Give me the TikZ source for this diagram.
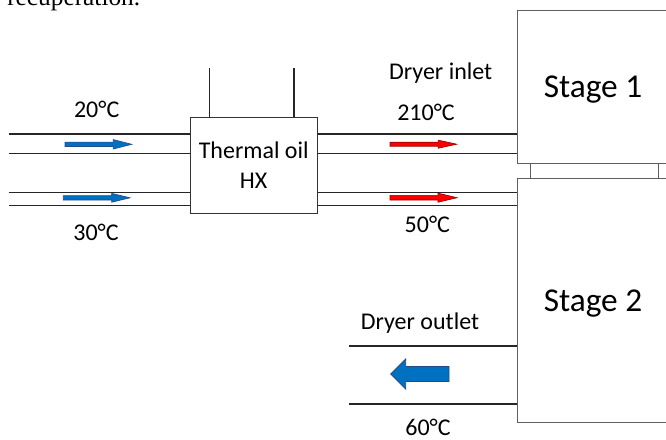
\documentclass[tikz,border=0pt]{standalone}
\usepackage{fontspec}
\setmainfont{Carlito}
\newfontfamily\bodyserif{Liberation Serif}
\usetikzlibrary{positioning}

\definecolor{flowblue}{RGB}{0,112,192}
\definecolor{flowblueline}{RGB}{40,75,135}
\definecolor{flowred}{RGB}{255,0,0}
\definecolor{flowredline}{RGB}{150,0,0}
\definecolor{boxgrey}{RGB}{95,95,95}

% block arrow: style, tail x, head base x, tip x, y, shaft half height, head half height
\newcommand{\blockarrow}[7]{%
  \draw[#1] (#2,#5-#6) -- (#3,#5-#6) -- (#3,#5-#7) -- (#4,#5)
    -- (#3,#5+#7) -- (#3,#5+#6) -- (#2,#5+#6) -- cycle;}

\begin{document}
\begin{tikzpicture}[x=0.75pt,y=-0.75pt,
	pipe/.style={line width=1.2pt, black!85},
	oilpipe/.style={line width=0.8pt, black!85},
	unitbox/.style={draw=boxgrey, line width=0.6pt, inner sep=0pt},
	templabel/.style={anchor=base, inner sep=0pt, font=\fontsize{18}{22}\selectfont},
	stagetext/.style={anchor=base, inner sep=0pt, font=\fontsize{25}{30}\selectfont},
	coldflow/.style={fill=flowblue, draw=flowblueline, line width=0.5pt},
	hotflow/.style={fill=flowred, draw=flowredline, line width=0.5pt}]

	\useasboundingbox (0,0) rectangle (666,439);
	\clip (0,0) rectangle (666,439);

	% cut caption line from the page
	\node[anchor=base west, inner sep=0pt, font=\bodyserif\fontsize{19}{23}\selectfont] (caption) at (7,5.5) {recuperation.};

	% dryer stages
	\node[unitbox, minimum width=114.75pt, minimum height=114.75pt] (stage1) at (593.5,86.5) {};
	\node[unitbox, minimum width=114.75pt, minimum height=182.6pt] (stage2) at (593.5,300.25) {};
	\draw[boxgrey, line width=0.6pt] ([xshift=10.5pt]stage1.south west) rectangle ([xshift=-9pt]stage2.north east);
	\node[stagetext] (s1label) at (593,97.3) {Stage 1};
	\node[stagetext] (s2label) at (593,311.7) {Stage 2};

	% heat exchanger
	\node[unitbox, draw=black!80, minimum width=95.25pt, minimum height=71.7pt, align=center,
		font=\fontsize{18}{22.5}\selectfont] (hx) at (253.7,165.5) {Thermal oil\\HX};

	% oil loop
	\coordinate (oilA) at (209.3,68);
	\coordinate (oilB) at (294,68);
	\draw[oilpipe] (oilA) -- (oilA |- hx.north);
	\draw[oilpipe] (oilB) -- (oilB |- hx.north);

	% air pipes through HX into the dryer
	\coordinate (inA) at (9,134);
	\coordinate (inB) at (9,153.3);
	\coordinate (inC) at (9,192.3);
	\coordinate (inD) at (9,205.3);
	\foreach \p in {inA,inB,inC,inD} {
		\draw[pipe] (\p) -- (\p -| hx.west);
		\draw[pipe] (\p -| hx.east) -- (\p -| stage1.west);
	}

	% dryer outlet duct
	\coordinate (outA) at (349.3,346);
	\coordinate (outB) at (349.3,404);
	\draw[pipe, line width=1.5pt] (outA) -- (outA -| stage2.west);
	\draw[pipe, line width=1.5pt] (outB) -- (outB -| stage2.west);

	% flow arrows
	\blockarrow{coldflow}{65}{113.3}{131.7}{144.3}{2.2}{4.7}
	\blockarrow{coldflow}{63.3}{111.7}{130}{197.8}{2.2}{4.4}
	\blockarrow{hotflow}{390}{438.3}{456.7}{144.2}{2}{4}
	\blockarrow{hotflow}{390}{438}{457}{197.7}{2.3}{4.5}
	\blockarrow{coldflow, line width=0.6pt}{449}{405.7}{390.7}{374}{7.5}{15}

	% labels
	\node[templabel] (tinA) at (96.7,117.7) {20°C};
	\node[templabel] (tinB) at (96,240.7) {30°C};
	\node[templabel] (inlet) at (440.7,79) {Dryer inlet};
	\node[templabel] (toutA) at (426,120.7) {210°C};
	\node[templabel] (toutB) at (427.3,232.7) {50°C};
	\node[templabel] (outlet) at (420,329) {Dryer outlet};
	\node[templabel] (texit) at (428,435) {60°C};
\end{tikzpicture}
\end{document}
